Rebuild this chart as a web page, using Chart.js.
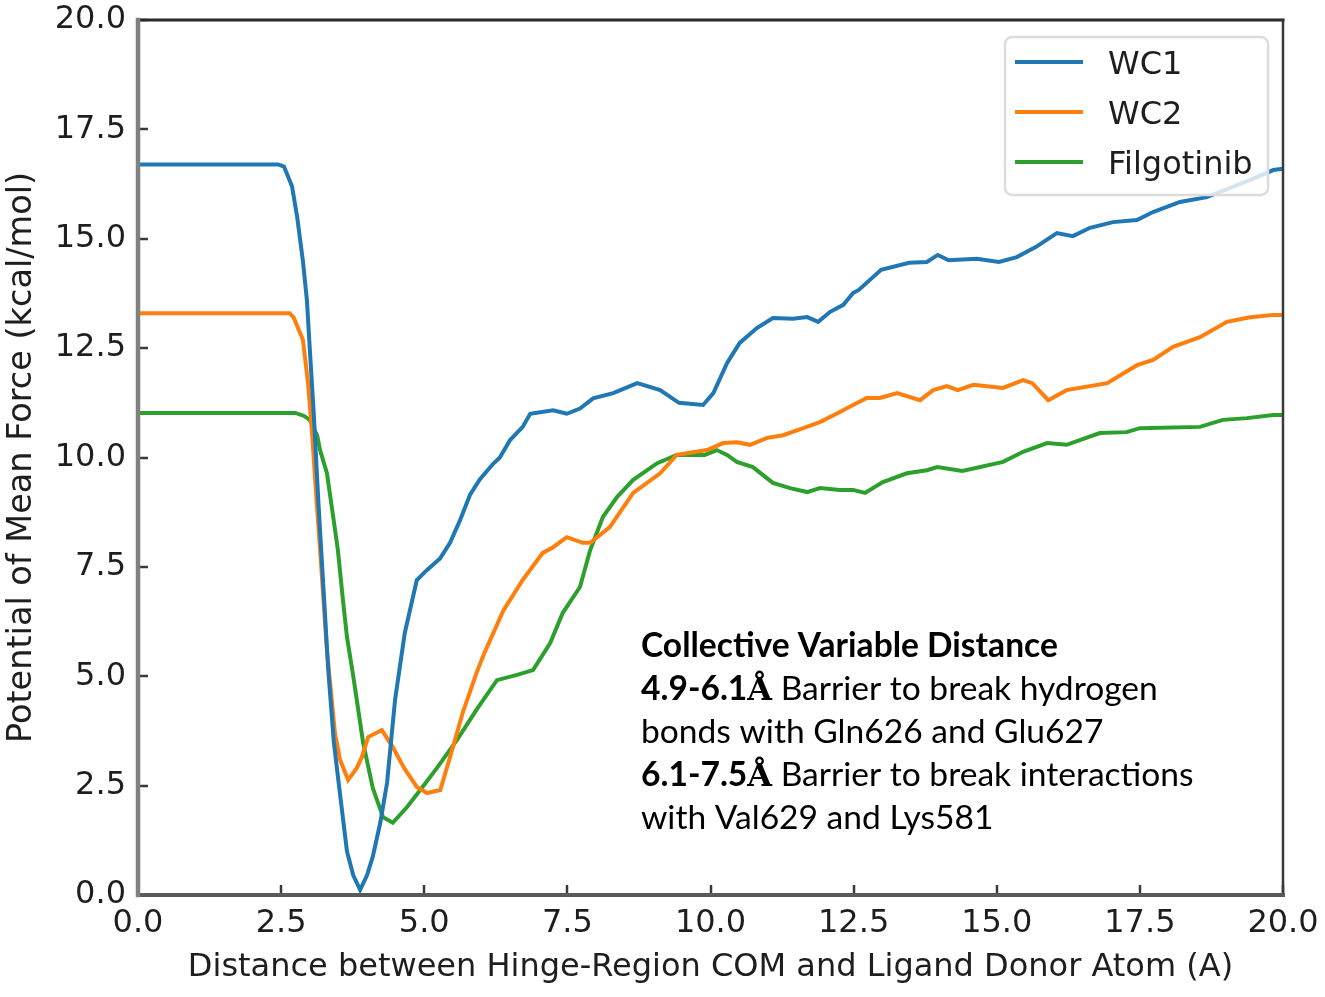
<!DOCTYPE html>
<html><head><meta charset="utf-8">
<script src="https://cdn.jsdelivr.net/npm/chart.js@4/dist/chart.umd.min.js"></script>
<style>html,body{margin:0;padding:0;background:#fff;overflow:hidden;}</style>
</head><body>
<canvas id="c" width="1325" height="997"></canvas>
<script>
// ---- data ----
const xTickValues = [0, 2.5, 5, 7.5, 10, 12.5, 15, 17.5, 20];
const yTickValues = [0, 2.5, 5, 7.5, 10, 12.5, 15, 17.5, 20];
const seriesNames = ['WC1', 'WC2', 'Filgotinib'];
const seriesColors = ['#1f77b4', '#ff7f0e', '#2ca02c'];

const wc1X = [0, 2.45, 2.55, 2.69, 2.78, 2.88, 2.95, 3.00, 3.07, 3.15, 3.24, 3.32, 3.42, 3.52, 3.65, 3.76, 3.88, 4.00, 4.10, 4.23, 4.35, 4.49, 4.66, 4.87, 5.05, 5.28, 5.45, 5.62, 5.80, 5.97, 6.20, 6.32, 6.50, 6.72, 6.85, 7.25, 7.49, 7.72, 7.95, 8.30, 8.72, 9.12, 9.45, 9.87, 10.05, 10.29, 10.51, 10.81, 11.09, 11.44, 11.69, 11.88, 12.09, 12.32, 12.49, 12.59, 12.98, 13.47, 13.78, 13.97, 14.16, 14.65, 15.04, 15.35, 15.68, 16.05, 16.33, 16.63, 17.03, 17.45, 17.73, 18.20, 18.67, 19.07, 19.42, 19.83, 20];
const wc1Y = [16.7, 16.7, 16.65, 16.2, 15.5, 14.5, 13.6, 12.5, 11.0, 9.0, 7.0, 5.2, 3.5, 2.4, 1.0, 0.45, 0.12, 0.45, 0.87, 1.64, 2.56, 4.46, 5.99, 7.2, 7.43, 7.7, 8.05, 8.55, 9.15, 9.5, 9.85, 10.0, 10.4, 10.7, 11.0, 11.08, 11.0, 11.12, 11.35, 11.47, 11.7, 11.54, 11.25, 11.2, 11.47, 12.16, 12.62, 12.96, 13.19, 13.17, 13.21, 13.1, 13.33, 13.49, 13.76, 13.83, 14.29, 14.45, 14.47, 14.63, 14.51, 14.54, 14.47, 14.58, 14.81, 15.13, 15.06, 15.25, 15.38, 15.43, 15.61, 15.84, 15.95, 16.16, 16.34, 16.57, 16.6];

const wc2X = [0, 2.65, 2.72, 2.88, 2.97, 3.04, 3.12, 3.18, 3.30, 3.44, 3.53, 3.67, 3.82, 3.91, 4.02, 4.26, 4.45, 4.65, 4.87, 5.05, 5.28, 5.45, 5.68, 5.92, 6.05, 6.38, 6.72, 7.07, 7.25, 7.49, 7.77, 7.90, 8.24, 8.65, 9.12, 9.41, 9.94, 10.22, 10.46, 10.69, 10.99, 11.27, 11.62, 11.91, 12.26, 12.49, 12.73, 12.96, 13.26, 13.66, 13.89, 14.13, 14.32, 14.59, 15.11, 15.46, 15.62, 15.90, 16.22, 16.93, 17.45, 17.73, 18.08, 18.55, 19.02, 19.40, 19.83, 20];
const wc2Y = [13.3, 13.3, 13.2, 12.69, 11.7, 10.56, 9.0, 7.9, 5.6, 3.7, 3.09, 2.63, 2.9, 3.15, 3.61, 3.77, 3.38, 2.9, 2.47, 2.33, 2.4, 3.15, 4.2, 5.1, 5.53, 6.5, 7.2, 7.82, 7.95, 8.18, 8.05, 8.05, 8.41, 9.19, 9.64, 10.06, 10.17, 10.33, 10.35, 10.29, 10.45, 10.51, 10.67, 10.81, 11.04, 11.2, 11.36, 11.36, 11.47, 11.31, 11.54, 11.63, 11.54, 11.66, 11.59, 11.77, 11.7, 11.31, 11.54, 11.7, 12.11, 12.23, 12.53, 12.75, 13.1, 13.2, 13.26, 13.26];

const filX = [0, 2.75, 2.9, 3.0, 3.13, 3.18, 3.30, 3.41, 3.49, 3.58, 3.65, 3.76, 3.93, 4.10, 4.28, 4.45, 4.70, 4.93, 5.22, 5.57, 5.92, 6.27, 6.62, 6.90, 7.20, 7.42, 7.72, 7.90, 8.12, 8.37, 8.65, 9.07, 9.41, 9.90, 10.11, 10.29, 10.46, 10.74, 11.09, 11.39, 11.69, 11.91, 12.26, 12.49, 12.70, 13.01, 13.43, 13.78, 13.96, 14.40, 15.11, 15.46, 15.88, 16.22, 16.80, 17.27, 17.50, 18.55, 18.95, 19.37, 19.83, 20];
const filY = [11.02, 11.02, 10.95, 10.86, 10.5, 10.17, 9.64, 8.64, 7.9, 6.74, 5.9, 5.0, 3.5, 2.45, 1.78, 1.65, 2.01, 2.4, 2.9, 3.54, 4.25, 4.91, 5.03, 5.14, 5.76, 6.45, 7.04, 7.89, 8.64, 9.1, 9.49, 9.87, 10.06, 10.06, 10.17, 10.06, 9.9, 9.78, 9.42, 9.3, 9.21, 9.3, 9.26, 9.26, 9.19, 9.44, 9.64, 9.71, 9.78, 9.69, 9.9, 10.13, 10.33, 10.29, 10.56, 10.58, 10.67, 10.70, 10.86, 10.9, 10.97, 10.97];

const xTitle = 'Distance between Hinge-Region COM and Ligand Donor Atom (A)';
const yTitle = 'Potential of Mean Force (kcal/mol)';
const noteLines = [
  [{t: 'Collective Variable Distance', b: true}],
  [{t: '4.9-6.1', b: true}, {t: 'Å', b: true, serif: true}, {t: ' Barrier to break hydrogen'}],
  [{t: 'bonds with Gln626 and Glu627'}],
  [{t: '6.1-7.5', b: true}, {t: 'Å', b: true, serif: true}, {t: ' Barrier to break interactions'}],
  [{t: 'with Val629 and Lys581'}]
];

// ---- build ----
const toPts = (xs, ys) => xs.map((x, i) => ({x: x, y: ys[i]}));
const seriesData = [toPts(wc1X, wc1Y), toPts(wc2X, wc2Y), toPts(filX, filY)];

const TXT = '#1e1e1e';
const FONT = 'DejaVu Sans';

const framePlugin = {
  id: 'frame',
  afterDatasetsDraw(chart) {
    const ctx = chart.ctx, a = chart.chartArea;
    const xs = chart.scales.x, ys = chart.scales.y;
    ctx.save();
    ctx.strokeStyle = '#3a3a3a'; ctx.lineWidth = 2.5;
    xs.ticks.forEach(t => {
      const p = Math.round(xs.getPixelForValue(t.value));
      ctx.beginPath(); ctx.moveTo(p, a.bottom); ctx.lineTo(p, a.bottom - 10); ctx.stroke();
    });
    ys.ticks.forEach(t => {
      const p = Math.round(ys.getPixelForValue(t.value));
      ctx.beginPath(); ctx.moveTo(a.left, p); ctx.lineTo(a.left + 10, p); ctx.stroke();
    });
    ctx.lineCap = 'square';
    ctx.strokeStyle = '#2b2b2b'; ctx.lineWidth = 3;
    ctx.beginPath(); ctx.moveTo(a.left, a.top); ctx.lineTo(a.right, a.top); ctx.stroke();
    ctx.strokeStyle = '#3a3a3a'; ctx.lineWidth = 2.5;
    ctx.beginPath(); ctx.moveTo(a.right, a.top); ctx.lineTo(a.right, a.bottom); ctx.stroke();
    ctx.strokeStyle = '#5a5a5a'; ctx.lineWidth = 4;
    ctx.beginPath(); ctx.moveTo(a.left, a.bottom); ctx.lineTo(a.right, a.bottom); ctx.stroke();
    ctx.strokeStyle = '#808080'; ctx.lineWidth = 4.5;
    ctx.beginPath(); ctx.moveTo(a.left, a.top); ctx.lineTo(a.left, a.bottom); ctx.stroke();
    ctx.restore();
  }
};

const legendPlugin = {
  id: 'mplLegend',
  afterDraw(chart) {
    const ctx = chart.ctx, a = chart.chartArea;
    const w = 263, h = 158;
    const x0 = a.right - 15 - w, y0 = a.top + 17;
    ctx.save();
    ctx.beginPath();
    ctx.roundRect(x0, y0, w, h, 7);
    ctx.fillStyle = 'rgba(255,255,255,0.8)';
    ctx.fill();
    ctx.strokeStyle = '#dcdcdc'; ctx.lineWidth = 2.5;
    ctx.stroke();
    ctx.font = '32px "' + FONT + '"';
    ctx.textBaseline = 'alphabetic';
    ctx.textAlign = 'left';
    chart.data.datasets.forEach((ds, i) => {
      const ly = y0 + 25 + i * 50;
      ctx.strokeStyle = ds.borderColor; ctx.lineWidth = 4;
      ctx.beginPath(); ctx.moveTo(x0 + 10, ly); ctx.lineTo(x0 + 78, ly); ctx.stroke();
      ctx.fillStyle = TXT;
      ctx.fillText(ds.label, x0 + 103, ly + 12);
    });
    ctx.restore();
  }
};

const notePlugin = {
  id: 'note',
  afterDraw(chart) {
    const ctx = chart.ctx;
    const fam = 'Lato';
    const font = (r, s) => (r.b ? 'bold ' : '') + s + 'px ' + (r.serif ? '"DejaVu Serif"' : '"' + fam + '"');
    ctx.save();
    ctx.font = font({b: true}, 32);
    const size = 32 * 417 / ctx.measureText(noteLines[0][0].t).width;
    ctx.fillStyle = '#000';
    ctx.textBaseline = 'alphabetic';
    ctx.textAlign = 'left';
    const x0 = 641, y0 = 657, lh = 43;
    noteLines.forEach((line, i) => {
      let x = x0;
      line.forEach(r => {
        ctx.font = font(r, r.serif ? size * 0.95 : size);
        ctx.fillText(r.t, x, y0 + i * lh);
        x += ctx.measureText(r.t).width;
      });
    });
    ctx.restore();
  }
};

new Chart(document.getElementById('c'), {
  type: 'line',
  data: {
    datasets: seriesNames.map((n, i) => ({
      label: n,
      data: seriesData[i],
      borderColor: seriesColors[i],
      backgroundColor: seriesColors[i],
      borderWidth: 4,
      pointRadius: 0,
      tension: 0,
      fill: false
    }))
  },
  options: {
    responsive: false,
    animation: false,
    devicePixelRatio: 1,
    layout: {padding: {top: 20, right: 42, left: 0, bottom: 0}},
    plugins: {legend: {display: false}, tooltip: {enabled: false}},
    scales: {
      x: {
        type: 'linear', min: 0, max: 20,
        afterBuildTicks: s => { s.ticks = xTickValues.map(v => ({value: v})); },
        afterFit: s => { s.height = 102; s.paddingLeft = 0; s.paddingRight = 0; },
        grid: {display: false, drawTicks: false},
        border: {display: false},
        ticks: {color: TXT, font: {family: FONT, size: 32}, padding: 9, maxRotation: 0, autoSkip: false,
                callback: v => Number(v).toFixed(1)},
        title: {display: true, text: xTitle, color: TXT, font: {family: FONT, size: 32}, padding: {top: 0, bottom: 10}}
      },
      y: {
        type: 'linear', min: 0, max: 20,
        afterBuildTicks: s => { s.ticks = yTickValues.map(v => ({value: v})); },
        afterFit: s => { s.width = 138; s.paddingTop = 0; s.paddingBottom = 0; },
        grid: {display: false, drawTicks: false},
        border: {display: false},
        ticks: {color: TXT, font: {family: FONT, size: 32}, padding: 12, autoSkip: false,
                callback: v => Number(v).toFixed(1)},
        title: {display: true, text: yTitle, color: TXT, font: {family: FONT, size: 33.5}, padding: {top: 2, bottom: 0}}
      }
    }
  },
  plugins: [framePlugin, legendPlugin, notePlugin]
});
</script>
</body></html>
